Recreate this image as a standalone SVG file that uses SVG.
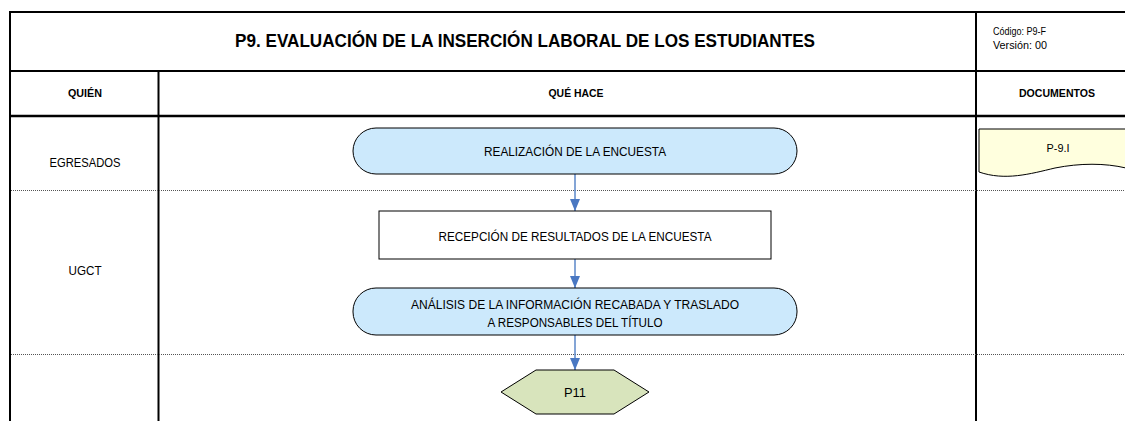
<svg xmlns="http://www.w3.org/2000/svg" width="1125" height="421" viewBox="0 0 1125 421">
<style>
.frame{stroke:#000;stroke-width:2;fill:none}
.dot{stroke:#555;stroke-width:1;stroke-dasharray:1 1;fill:none}
.t{font-family:"Liberation Sans",Arial,sans-serif;fill:#000}
.b{font-weight:bold}
.term{fill:#cce9fc;stroke:#000;stroke-width:1}
.proc{fill:#fff;stroke:#000;stroke-width:1}
.conn{stroke:#5b87c9;stroke-width:1.5;fill:none}
</style>
<defs>
<marker id="ah" markerWidth="12" markerHeight="10" refX="12" refY="5" orient="auto" markerUnits="userSpaceOnUse">
<path d="M0,0 L12,5 L0,10 Z" fill="#4a78c2"/>
</marker>
</defs>
<rect width="1125" height="421" fill="#fff"/>
<g id="table">
<line class="frame" x1="10" y1="12" x2="1125" y2="12"/>
<line class="frame" x1="10" y1="71" x2="1125" y2="71"/>
<line class="frame" x1="10" y1="116" x2="1125" y2="116" style="stroke-width:2.5"/>
<line class="frame" x1="10" y1="11" x2="10" y2="421"/>
<line class="frame" x1="158.5" y1="71" x2="158.5" y2="421"/>
<line class="frame" x1="976" y1="11" x2="976" y2="421"/>
<line class="dot" x1="11" y1="190.5" x2="1125" y2="190.5"/>
<line class="dot" x1="11" y1="354.5" x2="1125" y2="354.5"/>
<text class="t b" x="525" y="47" font-size="18" text-anchor="middle" textLength="580" lengthAdjust="spacingAndGlyphs">P9. EVALUACIÓN DE LA INSERCIÓN LABORAL DE LOS ESTUDIANTES</text>
<text class="t" x="993" y="35" font-size="10" textLength="53" lengthAdjust="spacingAndGlyphs">Código: P9-F</text>
<text class="t" x="993" y="49" font-size="10" textLength="54" lengthAdjust="spacingAndGlyphs">Versión: 00</text>
<text class="t b" x="85" y="97" font-size="10" text-anchor="middle" textLength="34" lengthAdjust="spacingAndGlyphs">QUIÉN</text>
<text class="t b" x="576" y="97" font-size="10" text-anchor="middle" textLength="55" lengthAdjust="spacingAndGlyphs">QUÉ HACE</text>
<text class="t b" x="1057" y="97" font-size="10" text-anchor="middle" textLength="76" lengthAdjust="spacingAndGlyphs">DOCUMENTOS</text>
<text class="t" x="85" y="167" font-size="12" text-anchor="middle" textLength="71" lengthAdjust="spacingAndGlyphs">EGRESADOS</text>
<text class="t" x="85" y="275" font-size="12" text-anchor="middle" textLength="33" lengthAdjust="spacingAndGlyphs">UGCT</text>
</g>
<g id="connectors">
<line class="conn" x1="575" y1="174" x2="575" y2="211" marker-end="url(#ah)"/>
<line class="conn" x1="575" y1="259" x2="575" y2="288" marker-end="url(#ah)"/>
<line class="conn" x1="575" y1="335" x2="575" y2="370" marker-end="url(#ah)"/>
</g>
<g id="n1">
<rect class="term" x="353" y="128" width="444" height="46" rx="23" ry="23"/>
<text class="t" x="575" y="156" font-size="12" text-anchor="middle" textLength="182" lengthAdjust="spacingAndGlyphs">REALIZACIÓN DE LA ENCUESTA</text>
</g>
<g id="n2">
<rect class="proc" x="379" y="211" width="392" height="48"/>
<text class="t" x="575" y="241" font-size="12" text-anchor="middle" textLength="273" lengthAdjust="spacingAndGlyphs">RECEPCIÓN DE RESULTADOS DE LA ENCUESTA</text>
</g>
<g id="n3">
<rect class="term" x="353" y="288" width="444" height="47" rx="23" ry="23"/>
<text class="t" x="575" y="309" font-size="12" text-anchor="middle" textLength="328" lengthAdjust="spacingAndGlyphs">ANÁLISIS DE LA INFORMACIÓN RECABADA Y TRASLADO</text>
<text class="t" x="575" y="327" font-size="12" text-anchor="middle" textLength="175" lengthAdjust="spacingAndGlyphs">A RESPONSABLES DEL TÍTULO</text>
</g>
<g id="n4">
<polygon points="536,370 614,370 649,392 614,414 536,414 501,392" fill="#d8e4bc" stroke="#000" stroke-width="1"/>
<text class="t" x="575" y="397" font-size="13" text-anchor="middle" textLength="22" lengthAdjust="spacingAndGlyphs">P11</text>
</g>
<g id="doc1">
<path d="M979,129 L1126,129 L1126,168 C1105,163 1080,163 1055,168 C1030,174 1005,181 979,172 Z" fill="#ffffde" stroke="#000" stroke-width="1"/>
<text class="t" x="1058" y="152" font-size="10.5" text-anchor="middle" textLength="23" lengthAdjust="spacingAndGlyphs">P-9.I</text>
</g>
</svg>
